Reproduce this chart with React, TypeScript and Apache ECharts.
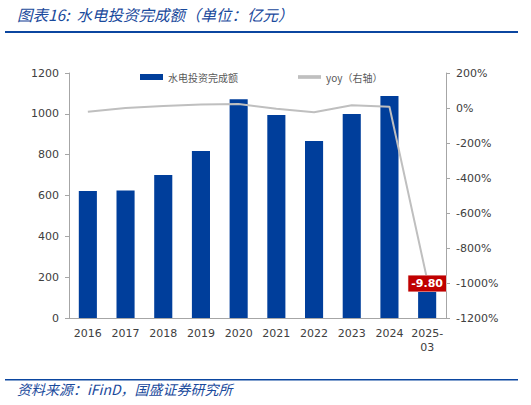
import * as echarts from "echarts";
import { useEffect, useRef } from "react";

const categories = ["2016", "2017", "2018", "2019", "2020", "2021", "2022", "2023", "2024", "2025-\n03"];
// 水电投资完成额（亿元）
const investment = [622, 625, 700, 818, 1072, 994, 867, 999, 1087, 150];
// yoy（%）
const yoy = [-22, 0, 12, 20, 23, -4, -24, 16, 7, -980];
const lastLabel = "-9.80";

const blue = "#003E9B";
const axisGrey = "#A6A6A6";
const textColor = "#404040";

function App() {
  const chartRef = useRef<HTMLDivElement>(null);

  useEffect(() => {
    if (!chartRef.current) return;
    const chart = echarts.init(chartRef.current, null, { renderer: "svg" });

    const lineData = yoy.map((v, i) =>
      i === yoy.length - 1
        ? {
            value: v,
            label: {
              show: true,
              formatter: lastLabel,
              position: "inside",
              offset: [0, 4],
              backgroundColor: "#C00000",
              borderColor: "#F2DCDB",
              borderWidth: 0.5,
              color: "#fff",
              fontWeight: "bold",
              fontSize: 11,
              fontFamily: "Verdana, DejaVu Sans, sans-serif",
              padding: [3, 3, 2, 3],
            },
          }
        : v
    );

    chart.setOption({
      animation: false,
      textStyle: { fontFamily: "Verdana, DejaVu Sans, sans-serif" },
      graphic: [
        {
          type: "text",
          left: 17,
          top: 6,
          style: {
            text: "图表16:  水电投资完成额（单位：亿元）",
            fill: "#1A4A9C",
            font: "italic 15.5px 'Noto Sans CJK SC', sans-serif",
          },
        },
        {
          type: "rect",
          shape: { x: 5, y: 31, width: 513, height: 2 },
          style: { fill: "#0B46A0" },
        },
        {
          type: "rect",
          shape: { x: 5, y: 379, width: 513, height: 1.5 },
          style: { fill: "#0B46A0" },
        },
        {
          type: "text",
          left: 17,
          top: 382,
          style: {
            text: "资料来源：iFinD，国盛证券研究所",
            fill: "#1A4A9C",
            font: "italic 14px 'Noto Sans CJK SC', sans-serif",
          },
        },
      ],
      legend: {
        left: 135,
        top: 67,
        itemWidth: 23,
        itemHeight: 6,
        itemGap: 60,
        textStyle: {
          color: "#595959",
          fontSize: 10,
          fontFamily: "'Noto Sans CJK SC', sans-serif",
        },
        data: [
          { name: "水电投资完成额", icon: "rect" },
          {
            name: "yoy（右轴）",
            icon: "path://M0,0 L10,0 L10,1.6 L0,1.6 Z",
            itemStyle: { color: "#BFBFBF" },
          },
        ],
      },
      grid: { left: 69, right: 85, top: 73, bottom: 87 },
      xAxis: {
        type: "category",
        data: categories,
        axisLine: { lineStyle: { color: axisGrey } },
        axisTick: { inside: true, length: 4, lineStyle: { color: axisGrey } },
        axisLabel: { color: textColor, fontSize: 11, margin: 8, lineHeight: 14, interval: 0 },
      },
      yAxis: [
        {
          type: "value",
          min: 0,
          max: 1200,
          interval: 200,
          axisLine: { show: true, lineStyle: { color: axisGrey } },
          axisTick: { show: true, length: 4, lineStyle: { color: axisGrey } },
          axisLabel: { color: textColor, fontSize: 11, margin: 10, formatter: (v: number) => String(v) },
          splitLine: { show: false },
        },
        {
          type: "value",
          min: -1200,
          max: 200,
          interval: 200,
          position: "right",
          axisLine: { show: true, lineStyle: { color: axisGrey } },
          axisTick: { show: true, length: 4, lineStyle: { color: axisGrey } },
          axisLabel: { color: textColor, fontSize: 11, margin: 10, formatter: (v: number) => v + "%" },
          splitLine: { show: false },
        },
      ],
      series: [
        {
          name: "水电投资完成额",
          type: "bar",
          data: investment,
          barWidth: "48%",
          itemStyle: { color: blue },
        },
        {
          name: "yoy（右轴）",
          type: "line",
          yAxisIndex: 1,
          data: lineData,
          symbol: "circle",
          symbolSize: 0,
          showSymbol: true,
          lineStyle: { color: "#BFBFBF", width: 2 },
          itemStyle: { color: "#BFBFBF" },
          z: 5,
        },
      ],
    });

    return () => {
      chart.dispose();
    };
  }, []);

  return (
    <div
      ref={chartRef}
      style={{ position: "fixed", left: 0, top: 0, width: 531, height: 405, background: "#fff" }}
    />
  );
}

export default App;
